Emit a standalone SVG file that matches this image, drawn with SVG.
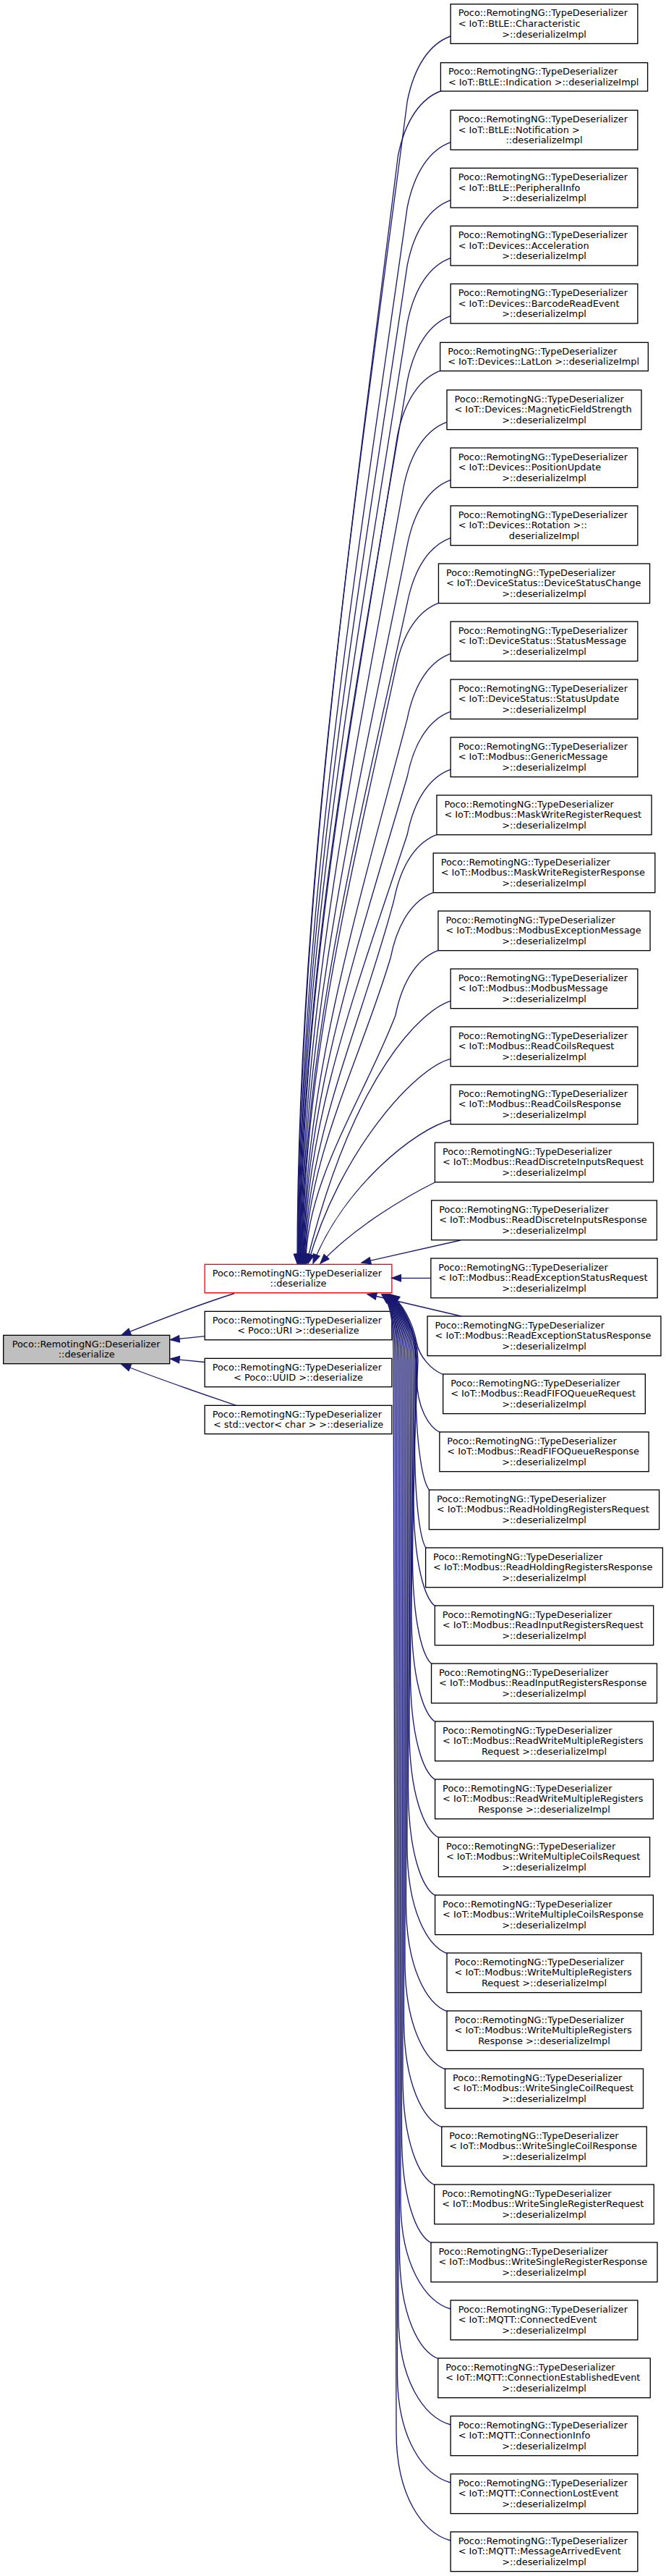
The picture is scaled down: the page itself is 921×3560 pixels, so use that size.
<svg xmlns="http://www.w3.org/2000/svg" width="921" height="3560" viewBox="0 0 921 3560">
<style>
text{font-family:"DejaVu Sans","Liberation Sans",sans-serif;font-size:12.87px;fill:#000}
.c{text-anchor:middle}
.n rect{fill:#fff;stroke:#000;stroke-width:1.33}
#root rect{fill:#bfbfbf}
#red rect{stroke:#ff0000}
.e path{fill:none;stroke:#191970;stroke-width:1.33;marker-end:url(#a)}
</style>
<defs>
<marker id="a" markerUnits="userSpaceOnUse" viewBox="0 0 14 11" markerWidth="14" markerHeight="11" refX="13.3" refY="5.5" orient="auto" overflow="visible">
<path d="M0.7,0.8 L13.3,5.5 L0.7,10.2 z" fill="#191970" stroke="#191970" stroke-width="1.2"/>
</marker>
</defs>
<rect width="921" height="3560" fill="#fff"/>

<g id="root" class="n" transform="translate(119.7,1865)"><rect x="-115" y="-19.67" width="230" height="39.33"/><text x="-103" y="-3.4">Poco::RemotingNG::Deserializer</text><text class="c" y="11.3">::deserialize</text></g>
<g id="red" class="n" transform="translate(412.5,1767)"><rect x="-129.35" y="-19.67" width="258.7" height="39.33"/><text x="-118.85" y="-3.4">Poco::RemotingNG::TypeDeserializer</text><text class="c" y="11.3">::deserialize</text></g>
<g id="uri" class="n" transform="translate(412.5,1832)"><rect x="-129.35" y="-19.67" width="258.7" height="39.33"/><text x="-118.85" y="-3.4">Poco::RemotingNG::TypeDeserializer</text><text class="c" y="11.3">&lt; Poco::URI &gt;::deserialize</text></g>
<g id="uuid" class="n" transform="translate(412.5,1897)"><rect x="-129.35" y="-19.67" width="258.7" height="39.33"/><text x="-118.85" y="-3.4">Poco::RemotingNG::TypeDeserializer</text><text class="c" y="11.3">&lt; Poco::UUID &gt;::deserialize</text></g>
<g id="vec" class="n" transform="translate(412.5,1962)"><rect x="-129.35" y="-19.67" width="258.7" height="39.33"/><text x="-118.85" y="-3.4">Poco::RemotingNG::TypeDeserializer</text><text class="c" y="11.3">&lt; std::vector&lt; char &gt; &gt;::deserialize</text></g>

<g id="n1" class="n" transform="translate(752.5,33)"><rect x="-129.35" y="-27.33" width="258.7" height="54.67"/><text x="-118.85" y="-10.6">Poco::RemotingNG::TypeDeserializer</text><text x="-118.85" y="4">&lt; IoT::BtLE::Characteristic</text><text class="c" y="18.6">&gt;::deserializeImpl</text></g>
<g id="n2" class="n" transform="translate(752.5,106.33)"><rect x="-143.1" y="-19.67" width="286.2" height="39.33"/><text x="-132.6" y="-3.4">Poco::RemotingNG::TypeDeserializer</text><text x="-132.6" y="11.3">&lt; IoT::BtLE::Indication &gt;::deserializeImpl</text></g>
<g id="n3" class="n" transform="translate(752.5,179.67)"><rect x="-129.35" y="-27.33" width="258.7" height="54.67"/><text x="-118.85" y="-10.6">Poco::RemotingNG::TypeDeserializer</text><text x="-118.85" y="4">&lt; IoT::BtLE::Notification &gt;</text><text class="c" y="18.6">::deserializeImpl</text></g>
<g id="n4" class="n" transform="translate(752.5,259.67)"><rect x="-129.35" y="-27.33" width="258.7" height="54.67"/><text x="-118.85" y="-10.6">Poco::RemotingNG::TypeDeserializer</text><text x="-118.85" y="4">&lt; IoT::BtLE::PeripheralInfo</text><text class="c" y="18.6">&gt;::deserializeImpl</text></g>
<g id="n5" class="n" transform="translate(752.5,339.67)"><rect x="-129.35" y="-27.33" width="258.7" height="54.67"/><text x="-118.85" y="-10.6">Poco::RemotingNG::TypeDeserializer</text><text x="-118.85" y="4">&lt; IoT::Devices::Acceleration</text><text class="c" y="18.6">&gt;::deserializeImpl</text></g>
<g id="n6" class="n" transform="translate(752.5,419.67)"><rect x="-129.35" y="-27.33" width="258.7" height="54.67"/><text x="-118.85" y="-10.6">Poco::RemotingNG::TypeDeserializer</text><text x="-118.85" y="4">&lt; IoT::Devices::BarcodeReadEvent</text><text class="c" y="18.6">&gt;::deserializeImpl</text></g>
<g id="n7" class="n" transform="translate(752.5,493)"><rect x="-143.85" y="-19.67" width="287.7" height="39.33"/><text x="-133.35" y="-3.4">Poco::RemotingNG::TypeDeserializer</text><text x="-133.35" y="11.3">&lt; IoT::Devices::LatLon &gt;::deserializeImpl</text></g>
<g id="n8" class="n" transform="translate(752.5,566.33)"><rect x="-134.5" y="-27.33" width="269" height="54.67"/><text x="-124" y="-10.6">Poco::RemotingNG::TypeDeserializer</text><text x="-124" y="4">&lt; IoT::Devices::MagneticFieldStrength</text><text class="c" y="18.6">&gt;::deserializeImpl</text></g>
<g id="n9" class="n" transform="translate(752.5,646.33)"><rect x="-129.35" y="-27.33" width="258.7" height="54.67"/><text x="-118.85" y="-10.6">Poco::RemotingNG::TypeDeserializer</text><text x="-118.85" y="4">&lt; IoT::Devices::PositionUpdate</text><text class="c" y="18.6">&gt;::deserializeImpl</text></g>
<g id="n10" class="n" transform="translate(752.5,726.33)"><rect x="-129.35" y="-27.33" width="258.7" height="54.67"/><text x="-118.85" y="-10.6">Poco::RemotingNG::TypeDeserializer</text><text x="-118.85" y="4">&lt; IoT::Devices::Rotation &gt;::</text><text class="c" y="18.6">deserializeImpl</text></g>
<g id="n11" class="n" transform="translate(752.5,806.33)"><rect x="-146.05" y="-27.33" width="292.1" height="54.67"/><text x="-135.55" y="-10.6">Poco::RemotingNG::TypeDeserializer</text><text x="-135.55" y="4">&lt; IoT::DeviceStatus::DeviceStatusChange</text><text class="c" y="18.6">&gt;::deserializeImpl</text></g>
<g id="n12" class="n" transform="translate(752.5,886.33)"><rect x="-129.35" y="-27.33" width="258.7" height="54.67"/><text x="-118.85" y="-10.6">Poco::RemotingNG::TypeDeserializer</text><text x="-118.85" y="4">&lt; IoT::DeviceStatus::StatusMessage</text><text class="c" y="18.6">&gt;::deserializeImpl</text></g>
<g id="n13" class="n" transform="translate(752.5,966.33)"><rect x="-129.35" y="-27.33" width="258.7" height="54.67"/><text x="-118.85" y="-10.6">Poco::RemotingNG::TypeDeserializer</text><text x="-118.85" y="4">&lt; IoT::DeviceStatus::StatusUpdate</text><text class="c" y="18.6">&gt;::deserializeImpl</text></g>
<g id="n14" class="n" transform="translate(752.5,1046.33)"><rect x="-129.35" y="-27.33" width="258.7" height="54.67"/><text x="-118.85" y="-10.6">Poco::RemotingNG::TypeDeserializer</text><text x="-118.85" y="4">&lt; IoT::Modbus::GenericMessage</text><text class="c" y="18.6">&gt;::deserializeImpl</text></g>
<g id="n15" class="n" transform="translate(752.5,1126.33)"><rect x="-148.55" y="-27.33" width="297.1" height="54.67"/><text x="-138.05" y="-10.6">Poco::RemotingNG::TypeDeserializer</text><text x="-138.05" y="4">&lt; IoT::Modbus::MaskWriteRegisterRequest</text><text class="c" y="18.6">&gt;::deserializeImpl</text></g>
<g id="n16" class="n" transform="translate(752.5,1206.33)"><rect x="-153.3" y="-27.33" width="306.6" height="54.67"/><text x="-142.8" y="-10.6">Poco::RemotingNG::TypeDeserializer</text><text x="-142.8" y="4">&lt; IoT::Modbus::MaskWriteRegisterResponse</text><text class="c" y="18.6">&gt;::deserializeImpl</text></g>
<g id="n17" class="n" transform="translate(752.5,1286.33)"><rect x="-146.55" y="-27.33" width="293.1" height="54.67"/><text x="-136.05" y="-10.6">Poco::RemotingNG::TypeDeserializer</text><text x="-136.05" y="4">&lt; IoT::Modbus::ModbusExceptionMessage</text><text class="c" y="18.6">&gt;::deserializeImpl</text></g>
<g id="n18" class="n" transform="translate(752.5,1366.33)"><rect x="-129.35" y="-27.33" width="258.7" height="54.67"/><text x="-118.85" y="-10.6">Poco::RemotingNG::TypeDeserializer</text><text x="-118.85" y="4">&lt; IoT::Modbus::ModbusMessage</text><text class="c" y="18.6">&gt;::deserializeImpl</text></g>
<g id="n19" class="n" transform="translate(752.5,1446.33)"><rect x="-129.35" y="-27.33" width="258.7" height="54.67"/><text x="-118.85" y="-10.6">Poco::RemotingNG::TypeDeserializer</text><text x="-118.85" y="4">&lt; IoT::Modbus::ReadCoilsRequest</text><text class="c" y="18.6">&gt;::deserializeImpl</text></g>
<g id="n20" class="n" transform="translate(752.5,1526.33)"><rect x="-129.35" y="-27.33" width="258.7" height="54.67"/><text x="-118.85" y="-10.6">Poco::RemotingNG::TypeDeserializer</text><text x="-118.85" y="4">&lt; IoT::Modbus::ReadCoilsResponse</text><text class="c" y="18.6">&gt;::deserializeImpl</text></g>
<g id="n21" class="n" transform="translate(752.5,1606.33)"><rect x="-151.1" y="-27.33" width="302.2" height="54.67"/><text x="-140.6" y="-10.6">Poco::RemotingNG::TypeDeserializer</text><text x="-140.6" y="4">&lt; IoT::Modbus::ReadDiscreteInputsRequest</text><text class="c" y="18.6">&gt;::deserializeImpl</text></g>
<g id="n22" class="n" transform="translate(752.5,1686.33)"><rect x="-155.85" y="-27.33" width="311.7" height="54.67"/><text x="-145.35" y="-10.6">Poco::RemotingNG::TypeDeserializer</text><text x="-145.35" y="4">&lt; IoT::Modbus::ReadDiscreteInputsResponse</text><text class="c" y="18.6">&gt;::deserializeImpl</text></g>
<g id="n23" class="n" transform="translate(752.5,1766.33)"><rect x="-156.65" y="-27.33" width="313.3" height="54.67"/><text x="-146.15" y="-10.6">Poco::RemotingNG::TypeDeserializer</text><text x="-146.15" y="4">&lt; IoT::Modbus::ReadExceptionStatusRequest</text><text class="c" y="18.6">&gt;::deserializeImpl</text></g>
<g id="n24" class="n" transform="translate(752.5,1846.33)"><rect x="-161.45" y="-27.33" width="322.9" height="54.67"/><text x="-150.95" y="-10.6">Poco::RemotingNG::TypeDeserializer</text><text x="-150.95" y="4">&lt; IoT::Modbus::ReadExceptionStatusResponse</text><text class="c" y="18.6">&gt;::deserializeImpl</text></g>
<g id="n25" class="n" transform="translate(752.5,1926.33)"><rect x="-139.85" y="-27.33" width="279.7" height="54.67"/><text x="-129.35" y="-10.6">Poco::RemotingNG::TypeDeserializer</text><text x="-129.35" y="4">&lt; IoT::Modbus::ReadFIFOQueueRequest</text><text class="c" y="18.6">&gt;::deserializeImpl</text></g>
<g id="n26" class="n" transform="translate(752.5,2006.33)"><rect x="-144.65" y="-27.33" width="289.3" height="54.67"/><text x="-134.15" y="-10.6">Poco::RemotingNG::TypeDeserializer</text><text x="-134.15" y="4">&lt; IoT::Modbus::ReadFIFOQueueResponse</text><text class="c" y="18.6">&gt;::deserializeImpl</text></g>
<g id="n27" class="n" transform="translate(752.5,2086.33)"><rect x="-159.1" y="-27.33" width="318.2" height="54.67"/><text x="-148.6" y="-10.6">Poco::RemotingNG::TypeDeserializer</text><text x="-148.6" y="4">&lt; IoT::Modbus::ReadHoldingRegistersRequest</text><text class="c" y="18.6">&gt;::deserializeImpl</text></g>
<g id="n28" class="n" transform="translate(752.5,2166.33)"><rect x="-163.9" y="-27.33" width="327.8" height="54.67"/><text x="-153.4" y="-10.6">Poco::RemotingNG::TypeDeserializer</text><text x="-153.4" y="4">&lt; IoT::Modbus::ReadHoldingRegistersResponse</text><text class="c" y="18.6">&gt;::deserializeImpl</text></g>
<g id="n29" class="n" transform="translate(752.5,2246.33)"><rect x="-151.15" y="-27.33" width="302.3" height="54.67"/><text x="-140.65" y="-10.6">Poco::RemotingNG::TypeDeserializer</text><text x="-140.65" y="4">&lt; IoT::Modbus::ReadInputRegistersRequest</text><text class="c" y="18.6">&gt;::deserializeImpl</text></g>
<g id="n30" class="n" transform="translate(752.5,2326.33)"><rect x="-155.95" y="-27.33" width="311.9" height="54.67"/><text x="-145.45" y="-10.6">Poco::RemotingNG::TypeDeserializer</text><text x="-145.45" y="4">&lt; IoT::Modbus::ReadInputRegistersResponse</text><text class="c" y="18.6">&gt;::deserializeImpl</text></g>
<g id="n31" class="n" transform="translate(752.5,2406.33)"><rect x="-150.9" y="-27.33" width="301.8" height="54.67"/><text x="-140.4" y="-10.6">Poco::RemotingNG::TypeDeserializer</text><text x="-140.4" y="4">&lt; IoT::Modbus::ReadWriteMultipleRegisters</text><text class="c" y="18.6">Request &gt;::deserializeImpl</text></g>
<g id="n32" class="n" transform="translate(752.5,2486.33)"><rect x="-150.9" y="-27.33" width="301.8" height="54.67"/><text x="-140.4" y="-10.6">Poco::RemotingNG::TypeDeserializer</text><text x="-140.4" y="4">&lt; IoT::Modbus::ReadWriteMultipleRegisters</text><text class="c" y="18.6">Response &gt;::deserializeImpl</text></g>
<g id="n33" class="n" transform="translate(752.5,2566.33)"><rect x="-146.1" y="-27.33" width="292.2" height="54.67"/><text x="-135.6" y="-10.6">Poco::RemotingNG::TypeDeserializer</text><text x="-135.6" y="4">&lt; IoT::Modbus::WriteMultipleCoilsRequest</text><text class="c" y="18.6">&gt;::deserializeImpl</text></g>
<g id="n34" class="n" transform="translate(752.5,2646.33)"><rect x="-150.9" y="-27.33" width="301.8" height="54.67"/><text x="-140.4" y="-10.6">Poco::RemotingNG::TypeDeserializer</text><text x="-140.4" y="4">&lt; IoT::Modbus::WriteMultipleCoilsResponse</text><text class="c" y="18.6">&gt;::deserializeImpl</text></g>
<g id="n35" class="n" transform="translate(752.5,2726.33)"><rect x="-134.45" y="-27.33" width="268.9" height="54.67"/><text x="-123.95" y="-10.6">Poco::RemotingNG::TypeDeserializer</text><text x="-123.95" y="4">&lt; IoT::Modbus::WriteMultipleRegisters</text><text class="c" y="18.6">Request &gt;::deserializeImpl</text></g>
<g id="n36" class="n" transform="translate(752.5,2806.33)"><rect x="-134.45" y="-27.33" width="268.9" height="54.67"/><text x="-123.95" y="-10.6">Poco::RemotingNG::TypeDeserializer</text><text x="-123.95" y="4">&lt; IoT::Modbus::WriteMultipleRegisters</text><text class="c" y="18.6">Response &gt;::deserializeImpl</text></g>
<g id="n37" class="n" transform="translate(752.5,2886.33)"><rect x="-137" y="-27.33" width="274" height="54.67"/><text x="-126.5" y="-10.6">Poco::RemotingNG::TypeDeserializer</text><text x="-126.5" y="4">&lt; IoT::Modbus::WriteSingleCoilRequest</text><text class="c" y="18.6">&gt;::deserializeImpl</text></g>
<g id="n38" class="n" transform="translate(752.5,2966.33)"><rect x="-141.75" y="-27.33" width="283.5" height="54.67"/><text x="-131.25" y="-10.6">Poco::RemotingNG::TypeDeserializer</text><text x="-131.25" y="4">&lt; IoT::Modbus::WriteSingleCoilResponse</text><text class="c" y="18.6">&gt;::deserializeImpl</text></g>
<g id="n39" class="n" transform="translate(752.5,3046.33)"><rect x="-151.75" y="-27.33" width="303.5" height="54.67"/><text x="-141.25" y="-10.6">Poco::RemotingNG::TypeDeserializer</text><text x="-141.25" y="4">&lt; IoT::Modbus::WriteSingleRegisterRequest</text><text class="c" y="18.6">&gt;::deserializeImpl</text></g>
<g id="n40" class="n" transform="translate(752.5,3126.33)"><rect x="-156.5" y="-27.33" width="313" height="54.67"/><text x="-146" y="-10.6">Poco::RemotingNG::TypeDeserializer</text><text x="-146" y="4">&lt; IoT::Modbus::WriteSingleRegisterResponse</text><text class="c" y="18.6">&gt;::deserializeImpl</text></g>
<g id="n41" class="n" transform="translate(752.5,3206.33)"><rect x="-129.35" y="-27.33" width="258.7" height="54.67"/><text x="-118.85" y="-10.6">Poco::RemotingNG::TypeDeserializer</text><text x="-118.85" y="4">&lt; IoT::MQTT::ConnectedEvent</text><text class="c" y="18.6">&gt;::deserializeImpl</text></g>
<g id="n42" class="n" transform="translate(752.5,3286.33)"><rect x="-146.75" y="-27.33" width="293.5" height="54.67"/><text x="-136.25" y="-10.6">Poco::RemotingNG::TypeDeserializer</text><text x="-136.25" y="4">&lt; IoT::MQTT::ConnectionEstablishedEvent</text><text class="c" y="18.6">&gt;::deserializeImpl</text></g>
<g id="n43" class="n" transform="translate(752.5,3366.33)"><rect x="-129.35" y="-27.33" width="258.7" height="54.67"/><text x="-118.85" y="-10.6">Poco::RemotingNG::TypeDeserializer</text><text x="-118.85" y="4">&lt; IoT::MQTT::ConnectionInfo</text><text class="c" y="18.6">&gt;::deserializeImpl</text></g>
<g id="n44" class="n" transform="translate(752.5,3446.33)"><rect x="-129.35" y="-27.33" width="258.7" height="54.67"/><text x="-118.85" y="-10.6">Poco::RemotingNG::TypeDeserializer</text><text x="-118.85" y="4">&lt; IoT::MQTT::ConnectionLostEvent</text><text class="c" y="18.6">&gt;::deserializeImpl</text></g>
<g id="n45" class="n" transform="translate(752.5,3526.33)"><rect x="-129.35" y="-27.33" width="258.7" height="54.67"/><text x="-118.85" y="-10.6">Poco::RemotingNG::TypeDeserializer</text><text x="-118.85" y="4">&lt; IoT::MQTT::MessageArrivedEvent</text><text class="c" y="18.6">&gt;::deserializeImpl</text></g>

<g id="edges" class="e">
<path d="M324,1787.5 C285,1800 225,1822 168,1845"/>
<path d="M283.2,1846.7 L235.5,1851.5"/>
<path d="M283.2,1882.5 L235.5,1877.8"/>
<path d="M327,1942.5 C285,1928 225,1908 168,1885.5"/>
<path d="M623.2,50 C595.2,60 573.2,90 563.2,140 C494.7,670 411,1216 411,1746"/>
<path d="M610.4,125.5 C582.4,135.5 560.4,165.5 550.4,215.5 C488,720.5 411.8,1241 411.8,1746"/>
<path d="M623.2,196.7 C595.2,206.7 573.2,236.7 563.2,286.7 C495.4,768.3 412.5,1264.4 412.5,1746"/>
<path d="M623.2,276.7 C595.2,286.7 573.2,316.7 563.2,366.7 C495.7,821.9 413.3,1290.8 413.3,1746"/>
<path d="M623.2,356.7 C595.2,366.7 573.2,396.7 563.2,446.7 C496.1,875.5 414,1317.2 414,1746"/>
<path d="M623.2,436.7 C595.2,446.7 573.2,476.7 563.2,526.7 C496.4,929.1 414.8,1343.6 414.8,1746"/>
<path d="M609.6,512.2 C581.6,522.2 559.6,552.2 549.6,602.2 C489.3,979.7 415.5,1368.5 415.5,1746"/>
<path d="M618,583.3 C590,593.3 568,623.3 558,673.3 C494.2,1027.3 416.3,1392 416.3,1746"/>
<path d="M623.2,663.3 C595.2,673.3 573.2,703.3 563.2,753.3 C497.4,1080.9 417,1418.4 417,1746"/>
<path d="M623.2,743.3 C595.2,753.3 573.2,783.3 563.2,833.3 C497.7,1134.5 417.8,1444.8 417.8,1746"/>
<path d="M607.4,833.2 C579.4,843.2 557.4,873.2 547.4,923.2 C489.4,1194.7 418.5,1474.5 418.5,1746"/>
<path d="M623.2,903.3 C595.2,913.3 573.2,943.3 563.2,993.3 C498.4,1241.7 419.3,1497.6 419.3,1746"/>
<path d="M623.2,983.3 C595.2,993.3 573.2,1023.3 563.2,1073.3 C498.8,1295.3 420,1524 420,1746"/>
<path d="M623.2,1063.3 C595.2,1073.3 573.2,1103.3 563.2,1153.3 C499.1,1348.9 420.8,1550.4 420.8,1746"/>
<path d="M605,1153.2 C577,1163.2 555,1193.2 545,1243.2 C501.8,1409.1 421.5,1580.1 421.5,1746"/>
<path d="M600.2,1233.2 C572.2,1243.2 550.2,1273.2 540.2,1323.2 C498.9,1462.7 422.3,1606.5 422.3,1746"/>
<path d="M606.9,1313.2 C578.9,1323.2 556.9,1353.2 546.9,1403.2 C503.5,1516.3 423,1632.9 423,1746"/>
<path d="M623.2,1383.3 C585,1395 490,1480 423.8,1746"/>
<path d="M623.2,1463.3 C575,1475 470,1590 426,1746"/>
<path d="M623.2,1548 C575,1560 475,1640 433,1746"/>
<path d="M602.4,1633.5 C565,1652 490,1695 443,1746"/>
<path d="M637,1714 L500,1745"/>
<path d="M595.8,1766.3 L541.8,1766.3"/>
<path d="M638,1819 L508,1788.5"/>
<path d="M613.6,1900 C596,1893 580,1875 576,1855 C571,1828 556,1800 540,1789"/>
<path d="M608.9,1980 C592.7,1972 576.5,1945 576.5,1905 L576.5,1880 C576.5,1835 554.4,1800 539.4,1789"/>
<path d="M594.4,2060 C584.7,2050 575,2000 575,1910 L575,1880 C575,1835 553.8,1800 538.8,1789"/>
<path d="M589.6,2140 C581.6,2130 573.5,2080 573.5,1990 L578,1880 C578,1840 553.2,1802 538.2,1789"/>
<path d="M602.3,2220 C587.2,2210 572,2160 572,2070 L576,1880 C576,1840 552.6,1802 537.6,1789"/>
<path d="M597.6,2300 C584.1,2290 570.5,2240 570.5,2150 L574,1880 C574,1840 552,1802 537,1789"/>
<path d="M602.6,2380 C585.8,2370 569,2320 569,2230 L572,1880 C572,1840 551.4,1802 536.4,1789"/>
<path d="M602.6,2460 C585,2450 567.5,2400 567.5,2310 L570,1880 C570,1840 550.8,1802 535.8,1789"/>
<path d="M607.4,2540 C586.7,2530 566,2480 566,2390 L568,1880 C568,1840 550.2,1802 535.2,1789"/>
<path d="M602.6,2620 C583.5,2610 564.5,2560 564.5,2470 L566,1880 C566,1840 549.6,1802 534.6,1789"/>
<path d="M619,2700 C591,2690 563,2640 563,2550 L564,1880 C564,1840 549,1802 534,1789"/>
<path d="M619,2780 C590.3,2770 561.5,2720 561.5,2630 L562,1880 C562,1840 548.4,1802 533.4,1789"/>
<path d="M616.5,2860 C588.3,2850 560,2800 560,2710 L560,1880 C560,1840 547.8,1802 532.8,1789"/>
<path d="M611.8,2940 C585.1,2930 558.5,2880 558.5,2790 L558,1880 C558,1840 547.2,1802 532.2,1789"/>
<path d="M601.8,3020 C579.4,3010 557,2960 557,2870 L556,1880 C556,1840 546.6,1802 531.6,1789"/>
<path d="M597,3100 C576.3,3090 555.5,3040 555.5,2950 L554,1880 C554,1840 546,1802 531,1789"/>
<path d="M623.2,3191 C588.6,3181 554,3131 554,3041 L552,1880 C552,1840 545.4,1802 530.4,1789"/>
<path d="M606.8,3260 C579.6,3250 552.5,3200 552.5,3110 L550,1880 C550,1840 544.8,1802 529.8,1789"/>
<path d="M623.2,3351 C587.1,3341 551,3291 551,3201 L548,1880 C548,1840 544.2,1802 529.2,1789"/>
<path d="M623.2,3431 C586.4,3421 549.5,3371 549.5,3281 L546,1880 C546,1840 543.6,1802 528.6,1789"/>
<path d="M623.2,3511 C585.6,3501 548,3451 548,3361 L544,1880 C544,1840 543,1802 528,1789"/>
</g>
</svg>
